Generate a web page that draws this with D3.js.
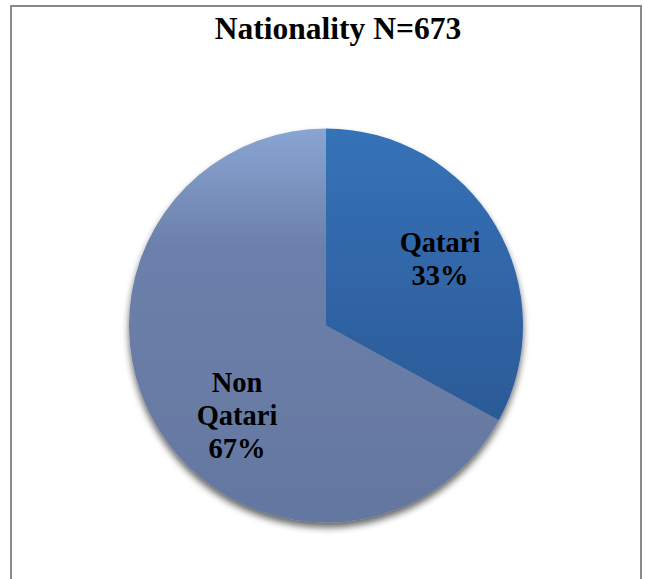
<!DOCTYPE html>
<html><head><meta charset="utf-8">
<script src="https://cdn.jsdelivr.net/npm/d3@7"></script>
<style>body{margin:0;background:#fff}svg{display:block}
.t{font-family:"Liberation Serif","Times New Roman",Tinos,"DejaVu Serif",serif;font-weight:bold;fill:#000}</style>
</head><body>
<svg id="c" width="645" height="579"></svg>
<script>
const title = "Nationality N=673";
const categories = ["Qatari", "Non Qatari"];
const counts = [222, 451];
const labelLines = [["Qatari", "33%"], ["Non", "Qatari", "67%"]];

const svg = d3.select("#c");
const cx = 326, cy = 325.5, R = 197;

svg.append("rect").attr("x", 11).attr("y", 6).attr("width", 630).attr("height", 600)
  .attr("fill", "#fff").attr("stroke", "#898989").attr("stroke-width", 2);

const defs = svg.append("defs");
const f = defs.append("filter").attr("id", "sh").attr("x", "-20%").attr("y", "-20%").attr("width", "140%").attr("height", "140%");
f.append("feGaussianBlur").attr("in", "SourceAlpha").attr("stdDeviation", 3.5);
f.append("feOffset").attr("dx", 0).attr("dy", 5).attr("result", "ob");
f.append("feComponentTransfer").append("feFuncA").attr("type", "linear").attr("slope", 0.6);
const m = f.append("feMerge"); m.append("feMergeNode"); m.append("feMergeNode").attr("in", "SourceGraphic");

const grads = [
  [["0%", "#3672b8"], ["100%", "#28528c"]],
  [["0%", "#8aa5d3"], ["30%", "#6b80aa"], ["100%", "#6477a0"]]
];
grads.forEach((st, i) => {
  const g = defs.append("linearGradient").attr("id", "g" + i)
    .attr("gradientUnits", "userSpaceOnUse")
    .attr("x1", 0).attr("y1", -R).attr("x2", 0).attr("y2", R);
  st.forEach(s => g.append("stop").attr("offset", s[0]).attr("stop-color", s[1]));
});

const pie = d3.pie().sort(null).value(d => d);
const arcs = pie(counts);
const arc = d3.arc().innerRadius(0).outerRadius(R);

const gp = svg.append("g").attr("transform", `translate(${cx},${cy})`);
const gs = gp.append("g").attr("filter", "url(#sh)");
gs.selectAll("path").data(arcs).join("path")
  .attr("d", arc).attr("fill", (d, i) => `url(#g${i})`);

svg.append("text").attr("class", "t").attr("x", 338).attr("y", 39).attr("text-anchor", "middle")
  .attr("font-size", 31.5).text(title);

const labelPos = [[440, 252], [237, 392]];
const lh = 33;
arcs.forEach((a, i) => {
  const t = svg.append("text").attr("class", "t").attr("text-anchor", "middle")
    .attr("font-size", 28.5);
  labelLines[i].forEach((ln, j) => {
    t.append("tspan").attr("x", labelPos[i][0]).attr("y", labelPos[i][1] + j * lh).text(ln);
  });
});
</script>
</body></html>
